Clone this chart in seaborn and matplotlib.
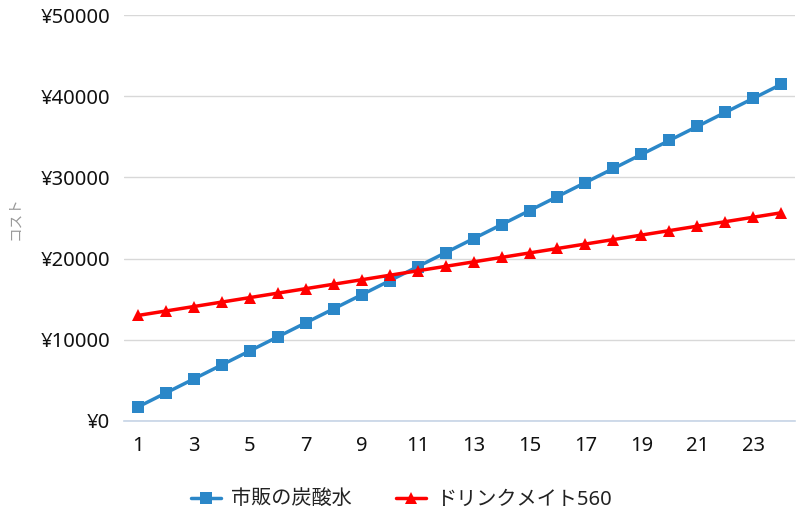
import numpy as np
import pandas as pd
import seaborn as sns
import matplotlib.pyplot as plt

# values
months = list(range(1, 25))
soda_cost = [1728, 3456, 5184, 6912, 8640, 10368, 12096, 13824, 15552, 17280,
             19008, 20736, 22464, 24192, 25920, 27648, 29376, 31104, 32832, 34560,
             36288, 38016, 39744, 41472]
drinkmate_cost = [13000, 13550, 14100, 14650, 15200, 15750, 16300, 16850, 17400, 17950,
                  18500, 19050, 19600, 20150, 20700, 21250, 21800, 22350, 22900, 23450,
                  24000, 24550, 25100, 25650]
series_names = ["市販の炭酸水", "ドリンクメイト560"]
x_ticks = list(range(1, 24, 2))
y_ticks = [0, 10000, 20000, 30000, 40000, 50000]

df = pd.DataFrame({
    "month": months * 2,
    "cost": soda_cost + drinkmate_cost,
    "series": [series_names[0]] * 24 + [series_names[1]] * 24,
})

sns.set_theme(style="white")
plt.rcParams["font.family"] = ["Noto Sans", "Noto Sans CJK JP", "DejaVu Sans"]

fig = plt.figure(figsize=(8, 5.21), dpi=100)
ax = fig.add_axes([0.155, 0.192, 0.839, 0.779])

sns.lineplot(data=df, x="month", y="cost", hue="series", style="series",
             palette=["#2b87c8", "#ff0000"], markers=["s", "^"], dashes=False,
             markersize=8.5, linewidth=2.5, markeredgewidth=0, ax=ax, legend=True)

ax.set_xlim(0.5, 24.5)
ax.set_ylim(0, 50000)
ax.set_xticks(x_ticks)
ax.set_yticks(y_ticks)
ax.set_yticklabels([f"¥{v}" for v in y_ticks])
ax.grid(axis="y", color="#d8d8d8", linewidth=1)
ax.set_axisbelow(True)
for s in ["top", "right", "left"]:
    ax.spines[s].set_visible(False)
ax.spines["bottom"].set_color("#c6d4e6")
ax.spines["bottom"].set_linewidth(1.2)
ax.tick_params(axis="x", length=8, width=1, color="#c6d4e6", labelsize=14.5,
               labelcolor="#111111", pad=3)
ax.tick_params(axis="y", length=0, labelsize=14.5, labelcolor="#111111", pad=10)
ax.set_xlabel("")
ax.set_ylabel("コスト", fontsize=10.5, color="#999999")
ax.yaxis.set_label_coords(-0.15, 0.5)

ax.legend(loc="center", bbox_to_anchor=(0.413, -0.195), ncol=2, frameon=False,
          fontsize=14.5, handlelength=1.5, handletextpad=0.5, columnspacing=2.2,
          labelcolor="#222222")

fig.savefig("out.png", dpi=100)
